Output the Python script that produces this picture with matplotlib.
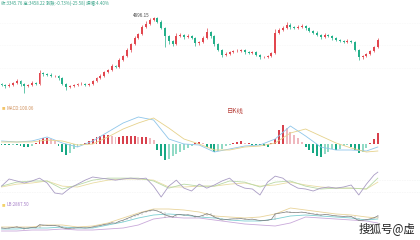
import matplotlib
matplotlib.use('Agg')
import matplotlib.pyplot as plt
import numpy as np

plt.rcParams['font.family'] = ['Noto Sans CJK SC', 'DejaVu Sans']

# ---------------- data ----------------
closes = [2515, 2480, 2515, 2585, 2655, 2550, 2480, 2515, 2585, 2550,
          2935, 2900, 2865, 2830, 2830, 2760, 2550, 2445, 2480, 2515,
          2550, 2550, 2515, 2550, 2655, 2760, 2830, 2970, 3040, 3180,
          3145, 3390, 3530, 3740, 3950, 4160, 4300, 4545, 4650, 4790,
          4860, 4720, 4510, 4230, 4055, 3950, 4230, 4265, 4195, 4230,
          4160, 3985, 4020, 4160, 4370, 4230, 3950, 3740, 3565, 3600,
          3670, 3705, 3705, 3740, 3670, 3635, 3670, 3565, 3495, 3495,
          3530, 3635, 4335, 4440, 4510, 4615, 4545, 4510, 4545, 4580,
          4510, 4405, 4335, 4265, 4195, 4265, 4230, 4160, 4090, 4055,
          4020, 4055, 4020, 3740, 3495, 3530, 3600, 3705, 3845, 4090]
first_open = 2550
hi_ext = [35, 35, 70, 35, 70, 35, 35, 35, 70, 35,
          105, 35, 35, 70, 35, 35, 35, 35, 35, 35,
          35, 70, 35, 35, 35, 35, 70, 35, 35, 70,
          35, 70, 35, 70, 35, 70, 35, 70, 105, 70,
          35, 35, 70, 35, 35, 35, 105, 70, 35, 70,
          35, 35, 35, 70, 140, 35, 35, 35, 35, 70,
          35, 35, 70, 35, 35, 35, 35, 35, 35, 35,
          35, 35, 140, 70, 70, 105, 70, 35, 70, 70,
          35, 35, 35, 70, 35, 70, 35, 35, 35, 35,
          35, 70, 35, 35, 35, 35, 35, 35, 35, 70]
lo_ext = [35, 70, 35, 35, 35, 70, 245, 35, 35, 35,
          35, 70, 35, 35, 35, 70, 35, 105, 35, 35,
          35, 35, 35, 35, 35, 35, 35, 35, 35, 35,
          35, 35, 35, 35, 70, 35, 35, 35, 35, 35,
          35, 35, 35, 385, 105, 70, 35, 35, 70, 35,
          35, 105, 70, 35, 35, 70, 70, 35, 70, 35,
          35, 35, 35, 35, 70, 35, 35, 35, 70, 35,
          35, 35, 35, 35, 35, 35, 70, 35, 35, 35,
          70, 35, 35, 35, 70, 35, 35, 70, 35, 35,
          35, 35, 35, 35, 105, 70, 35, 35, 35, 35]
peak_label = "4896.15"
header_text = "收:3345.76 高:3458.22 涨跌:-0.73%(-25.58) 振幅:4.40%"

macd_hist = [-6, -6, -6, -3, -6, -12, -18, -18, -12, 6,
             24, 36, 36, 30, 18, -12, -48, -66, -54, -30,
             -18, -6, 6, 18, 30, 42, 48, 54, 54, 48,
             42, 42, 48, 48, 48, 48, 42, 42, 42, 36,
             24, -36, -72, -96, -90, -72, -60, -48, -36, -24,
             -12, 6, 12, 6, -18, -30, -48, -42, -30, -12,
             -6, 6, 12, 18, 6, 6, -6, -6, -6, -12,
             -18, 6, 30, 84, 114, 96, 72, 54, 36, 12,
             -18, -36, -54, -72, -78, -60, -48, -30, -36, -30,
             -12, -6, -18, -36, -54, -48, -24, 6, 30, 66]
sample4 = list(range(0, 100, 4)) + [99]
dif = [18, 12, 18, 42, 6, -18, 18, 72, 126, 162, 144, 30, 0, -6, -48, -30,
       -12, -6, 30, 108, 48, -18, -36, -36, -42, -18]
dea = [12, 12, 12, 24, 18, -6, 0, 42, 90, 126, 156, 96, 30, 0, -36, -36,
       -18, -12, 6, 66, 90, 48, 6, -24, -48, -42]
macd_label = "MACD:100.06"
period_label = "日K线"

sample2 = list(range(0, 100, 2)) + [99]
kdj_k = [45, 70, 63, 56, 63, 73, 56, 21, 17, 38, 52, 66, 77, 73, 70, 66, 70,
         73, 70, 73, 45, 7, 45, 66, 38, 28, 52, 38, 49, 63, 73, 49, 38, 35,
         14, 59, 80, 73, 52, 38, 35, 28, 38, 42, 38, 42, 49, 14, 52, 84, 94]
kdj_d = [45, 59, 63, 63, 35, 49, 66, 73, 73, 73, 63, 38, 52, 45, 45, 63,
         59, 42, 59, 63, 45, 35, 38, 38, 35, 73]
kdj_j = [42, 52, 56, 63, 45, 42, 56, 66, 70, 70, 66, 42, 42, 45, 45, 52,
         56, 45, 49, 59, 49, 42, 38, 38, 35, 59]

boll_ub = [2645, 2645, 2645, 2905, 2905, 2645, 2775, 3165, 3815, 4465, 4985,
           4985, 4855, 4595, 4075, 3945, 3815, 3945, 4335, 5115, 4855, 4595,
           4335, 4205, 3945, 3815]
boll_mb = [2385, 2385, 2515, 2515, 2645, 2515, 2515, 2905, 3295, 3815, 4205,
           4335, 4205, 3945, 3815, 3555, 3425, 3425, 3685, 4075, 4205, 4075,
           3945, 3815, 3555, 3685]
boll_lb = [2125, 2125, 2255, 2255, 2385, 2255, 2255, 2385, 2515, 2905, 3685,
           3945, 3815, 3815, 3555, 3295, 3035, 2905, 2775, 3165, 3945, 3815,
           3685, 3555, 3425, 3165]
boll_label = "LB:2867.50"
watermark = "搜狐号@虚"

# ---------------- styles ----------------
UP = '#e2474f'
DOWN = '#24b08a'

W, H = 420, 240
fig = plt.figure(figsize=(W / 100, H / 100), dpi=100)
fig.patch.set_facecolor('white')


def add_ax(top_px, bottom_px):
    ax = fig.add_axes([0, 1 - bottom_px / H, 1, (bottom_px - top_px) / H])
    ax.set_axis_off()
    ax.set_xlim(-0.4, 110.1)
    return ax


n = len(closes)
idx = np.arange(n)
c = np.array(closes, float)
o = np.concatenate([[first_open], c[:-1]])
hi = np.maximum(o, c) + np.array(hi_ext)
lo = np.minimum(o, c) - np.array(lo_ext)
up = c >= o
col = np.where(up, UP, DOWN)

# ---- main candlestick panel ----
ax = add_ax(0, 97)
ax.set_ylim(2095, 5490)
for yv in [4700, 3900, 3100]:
    ax.axhline(yv, color='#f0f0f0', lw=0.4, ls=(0, (1, 2)), zorder=0)
ax.vlines(idx, lo, hi, colors=col, lw=0.5, zorder=2)
body = np.maximum(np.abs(c - o), 14)
ax.bar(idx, body, bottom=np.minimum(o, c), width=0.5, color=col, lw=0, zorder=3)
pk = int(np.argmax(hi))
ax.annotate(peak_label, xy=(pk, hi[pk]), xytext=(-3, 1), textcoords='offset points',
            ha='right', va='center', fontsize=3.3, color='#444444')
fig.text(0.002, 1 - 3 / H, header_text, fontsize=3.2, color='#3ba58a', va='center', ha='left')

# ---- MACD panel ----
ax2 = add_ax(100, 162)
ax2.set_ylim(-108, 264)
hist = np.array(macd_hist, float)
prev = np.concatenate([[0], hist[:-1]])
hcol = []
for h, p in zip(hist, prev):
    if h >= 0:
        hcol.append('#d8404c' if h >= p else '#efb8be')
    else:
        hcol.append('#17a884' if h <= p else '#92dac6')
ax2.bar(idx, hist, width=0.5, color=hcol, lw=0)
ax2.plot(sample4, dif, color='#8fc6ea', lw=0.6)
ax2.plot(sample4, dea, color='#e6d28c', lw=0.6)
fig.text(0.004, 1 - 108 / H, '■', fontsize=2.5, color='#f2c46a', va='center')
fig.text(0.016, 1 - 108 / H, macd_label, fontsize=3.2, color='#d0905a', va='center')
ax2.text(59.2, 200, period_label, fontsize=4.6, color='#b9443e', va='center', ha='left')

# ---- KDJ panel ----
ax3 = add_ax(163, 200)
ax3.set_ylim(-3.5, 126)
for yv in [66, 24]:
    ax3.axhline(yv, color='#e6e6e6', lw=0.4, ls=(0, (1, 2)), zorder=0)
ax3.plot(sample4, kdj_j, color='#e9dca2', lw=0.6)
ax3.plot(sample4, kdj_d, color='#b9d9a6', lw=0.6)
ax3.plot(sample2, kdj_k, color='#a99cc4', lw=0.6)

# ---- BOLL panel ----
ax4 = add_ax(200, 240)
ax4.set_ylim(955, 6155)
ax4.plot(sample4, boll_ub, color='#e9d49a', lw=0.6)
ax4.plot(sample4, boll_mb, color='#7ccfd2', lw=0.6)
ax4.plot(sample4, boll_lb, color='#c9a9da', lw=0.6)
ax4.plot(idx, closes, color='#7a7a7a', lw=0.5)
ax4.vlines(idx, lo, hi, colors='#8a8a8a', lw=0.3)
fig.text(0.004, 1 - 205 / H, '■', fontsize=2.5, color='#f2d26a', va='center')
fig.text(0.016, 1 - 205 / H, boll_label, fontsize=3.2, color='#a67fc8', va='center')

fig.text(359 / W, 1 - 229 / H, watermark, fontsize=8.3, color='#222222', va='center', ha='left')

fig.savefig('out.png', dpi=100, facecolor='white')
